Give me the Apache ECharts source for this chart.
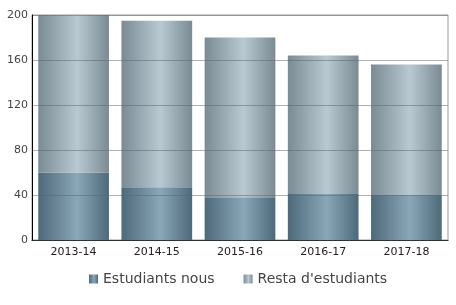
<!DOCTYPE html>
<html><head><meta charset="utf-8">
<script src="https://cdn.jsdelivr.net/npm/echarts@6/dist/echarts.min.js"></script>
<style>html,body{margin:0;padding:0;background:#fff}#c{width:456px;height:305px}</style>
</head><body><div id="c"></div>
<script>
const categories = ['2013-14','2014-15','2015-16','2016-17','2017-18'];
const nous = [60, 47, 38, 41, 40];
const resta = [140, 148, 142, 123, 116];
const seriesNames = ['Estudiants nous', "Resta d'estudiants"];
const yTicks = [0, 40, 80, 120, 160, 200];

function grad(edge, mid) {
  return new echarts.graphic.LinearGradient(0, 0, 1, 0, [
    {offset: 0, color: edge},
    {offset: 0.55, color: mid},
    {offset: 1, color: edge}
  ]);
}
const chart = echarts.init(document.getElementById('c'), null, {renderer: 'canvas'});
chart.setOption({
  animation: false,
  textStyle: {fontFamily: 'DejaVu Sans'},
  grid: {left: 32, right: 8, top: 15, bottom: 65, show: true, borderColor: '#999', borderWidth: 1},
  legend: {
    bottom: 14, left: 84, itemWidth: 9, itemHeight: 9, itemGap: 29, icon: 'rect',
    textStyle: {fontSize: 14, color: '#444', fontFamily: 'DejaVu Sans'},
    data: seriesNames
  },
  xAxis: {
    type: 'category', data: categories,
    axisLine: {lineStyle: {color: '#000'}},
    axisTick: {show: false},
    axisLabel: {color: '#222', fontSize: 11, margin: 7}
  },
  yAxis: {
    type: 'value', min: yTicks[0], max: yTicks[yTicks.length-1], interval: 40, z: 10,
    axisLine: {show: true, lineStyle: {color: '#000'}},
    axisTick: {show: false},
    axisLabel: {color: '#444', fontSize: 11, margin: 4},
    splitLine: {lineStyle: {color: 'rgba(90,100,105,0.5)'}}
  },
  series: [
    {name: seriesNames[0], type: 'bar', stack: 's', data: nous, barWidth: '85%',
     itemStyle: {color: grad('#4e6a7a', '#8aa7b7')}},
    {name: seriesNames[1], type: 'bar', stack: 's', data: resta, barWidth: '85%',
     itemStyle: {color: grad('#7b8b94', '#b9c9d1')}}
  ]
});
</script></body></html>
